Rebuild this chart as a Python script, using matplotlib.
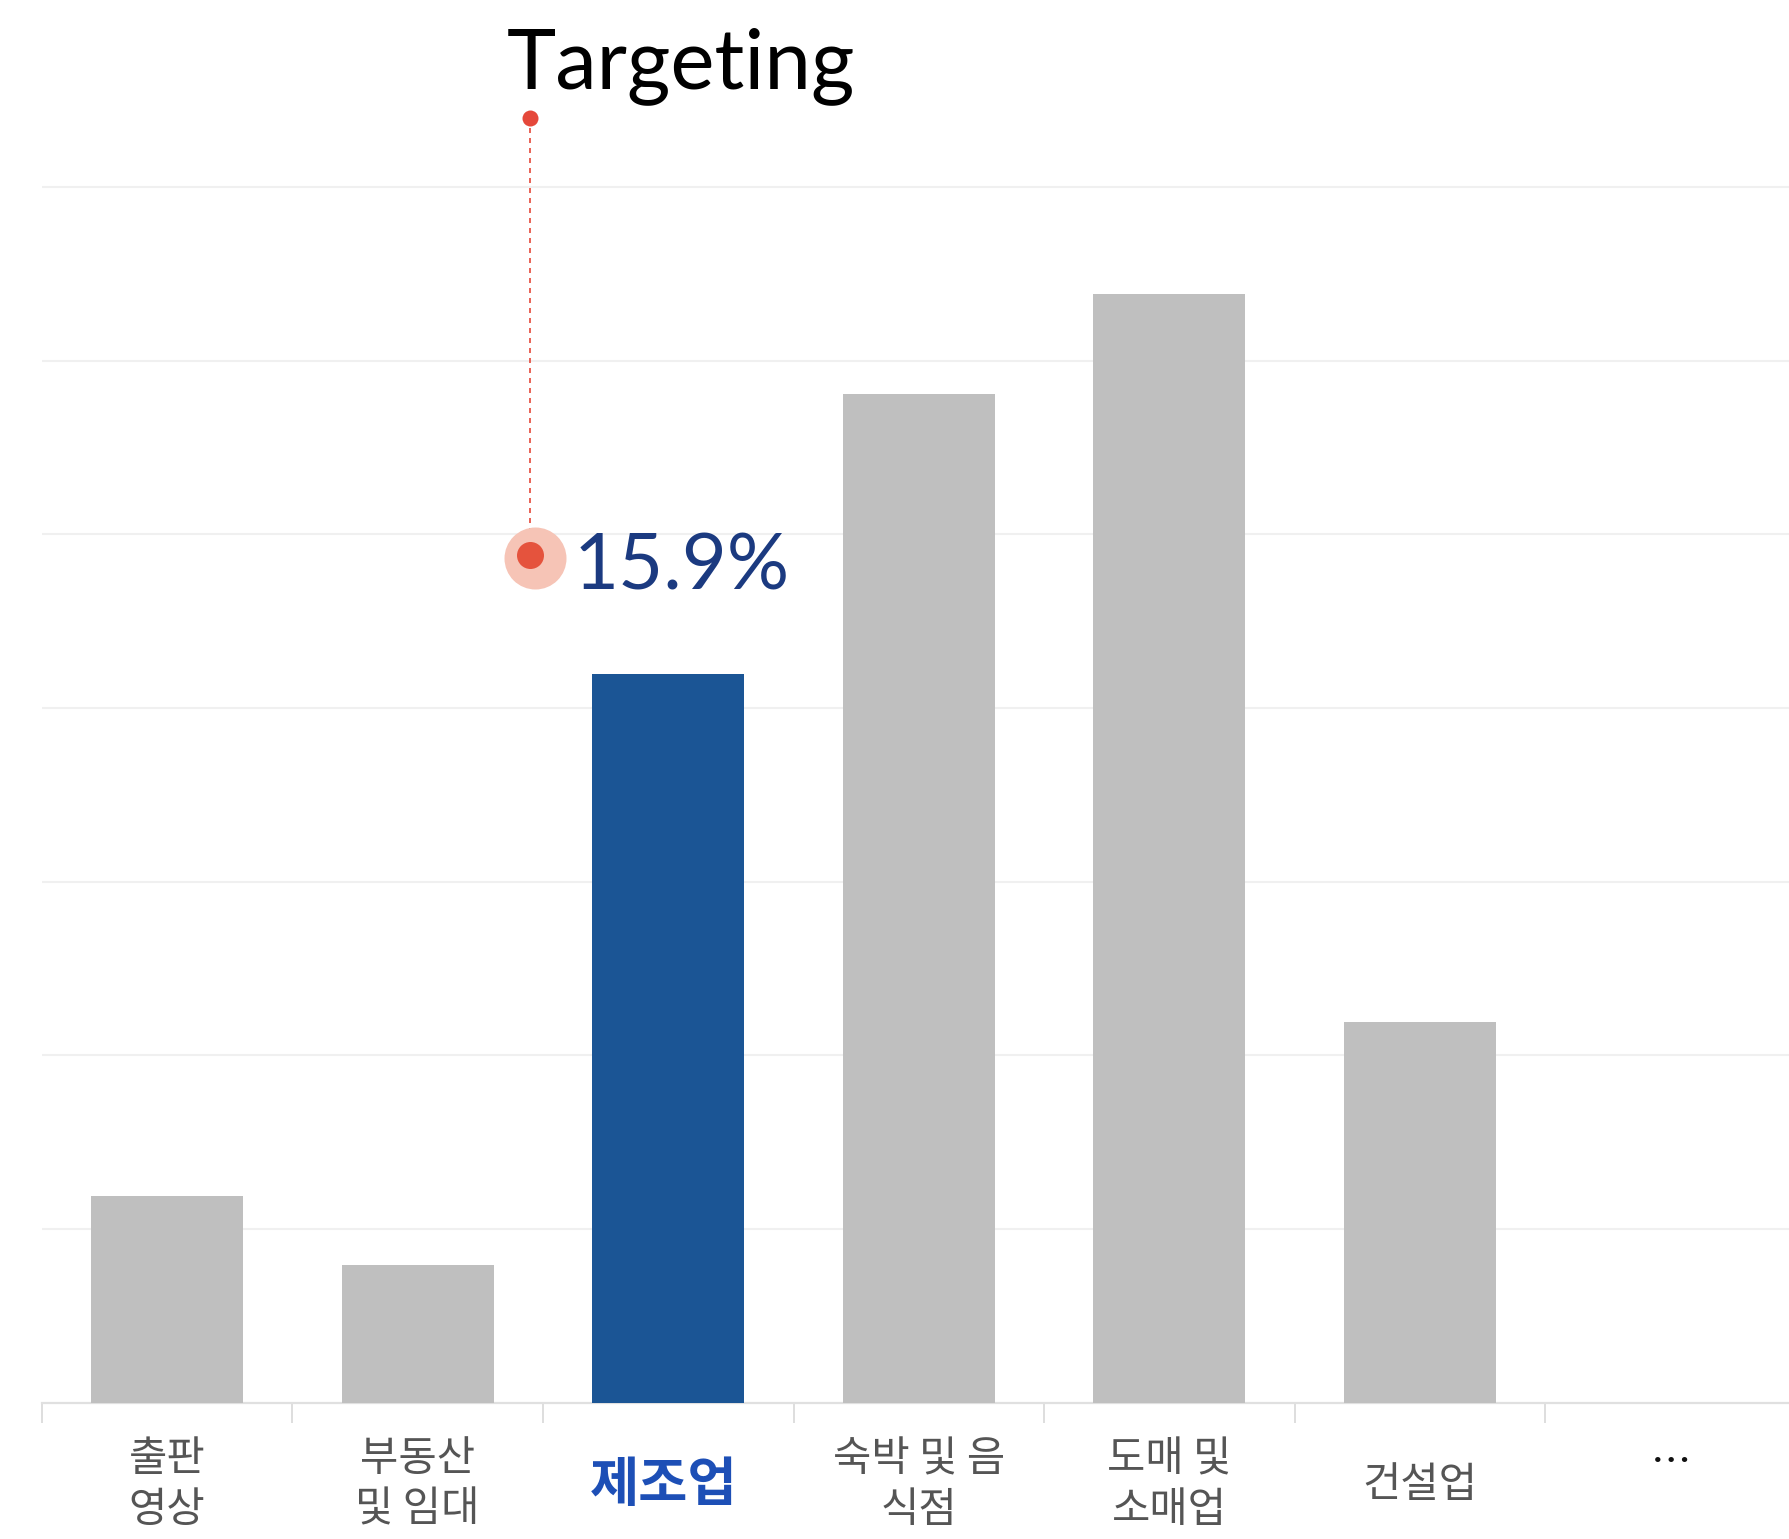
import numpy as np
import matplotlib
matplotlib.use("Agg")
import matplotlib.pyplot as plt

plt.rcParams['font.family'] = ['Noto Sans CJK KR', 'DejaVu Sans']

# ---- data ----
categories = ["출판\n영상", "부동산\n및 임대", "제조업", "숙박 및 음\n식점", "도매 및\n소매업", "건설업", "…"]
values = [4.5, 3.0, 15.9, 22.0, 24.2, 8.3]
highlight = 2
title_text = "Targeting"

# ---- styles ----
W, H = 1789, 1539
grey_bar = "#bfbfbf"
blue_bar = "#1b5595"
label_grey = "#555555"
label_blue = "#1d4fb6"
value_navy = "#1b3a80"
red = "#e5483a"
halo = "#f6c4b6"

fig = plt.figure(figsize=(W / 100, H / 100), dpi=100)
left_px, base_px = 41.7, 1402.7
cat_px = 250.6
ax = fig.add_axes([left_px / W, (H - base_px) / H, 7 * cat_px / W, base_px / H])

px_per_unit = 45.83
ax.set_xlim(-0.5, len(categories) - 0.5)
ax.set_ylim(0, base_px / px_per_unit)

x = np.arange(len(values))
colors = [blue_bar if i == highlight else grey_bar for i in range(len(values))]
ax.bar(x, values, width=0.607, color=colors, zorder=3)

# gridlines
grid_step = 3.79
ax.set_yticks(np.arange(1, 8) * grid_step)
ax.yaxis.grid(True, color="#f0f0f0", linewidth=1.5, zorder=0)
ax.tick_params(axis="y", length=0, labelleft=False)

# spines
for s in ["top", "right", "left"]:
    ax.spines[s].set_visible(False)
ax.spines["bottom"].set_color("#e0e0e0")
ax.spines["bottom"].set_linewidth(1.6)

# ticks at category boundaries
ax.set_xticks(np.arange(len(categories)))
ax.tick_params(axis="x", which="major", length=0, labelbottom=False)
ax.set_xticks(np.arange(-0.5, len(categories) - 0.5, 1), minor=True)
ax.tick_params(axis="x", which="minor", length=14.5, width=1.1, color="#d4d4d4")

# category labels
tr = ax.get_xaxis_transform()
lab_y = (base_px - 1485) / base_px
for i, lab in enumerate(categories):
    if i == highlight:
        ax.text(i - 0.02, lab_y, lab, transform=tr, ha="center", va="center",
                fontsize=38.5, fontweight="bold", color=label_blue)
    elif lab == "…":
        ax.text(i, (base_px - 1475) / base_px, lab, transform=tr, ha="center", va="baseline",
                fontsize=29, color="#111111")
    else:
        ax.text(i, lab_y, lab, transform=tr, ha="center", va="center",
                fontsize=30, color=label_grey, linespacing=1.3)

# annotation
to_data_x = lambda px: (px - left_px) / cat_px - 0.5
to_data_y = lambda py: (base_px - py) / px_per_unit

dot_x = to_data_x(530)
top_y = to_data_y(118)
low_y = to_data_y(555)
ax.plot([dot_x, dot_x], [top_y, low_y], color=red, lw=1.2, ls=(0, (3, 3)), zorder=4, clip_on=False)
ax.scatter([dot_x], [top_y], s=(16 * 0.72) ** 2, color=red, zorder=5, clip_on=False, linewidths=0)
ax.scatter([to_data_x(535)], [to_data_y(558)], s=(62 * 0.72) ** 2, color=halo, zorder=5, clip_on=False, linewidths=0)
ax.scatter([dot_x], [low_y], s=(27 * 0.72) ** 2, color="#e5533d", zorder=6, clip_on=False, linewidths=0)

ax.text(to_data_x(574), to_data_y(590), f"{values[highlight]}%", ha="left", va="baseline",
        fontsize=56, color=value_navy, zorder=7, family=["Lato", "DejaVu Sans"])
ax.text(to_data_x(507), to_data_y(88), title_text, ha="left", va="baseline",
        fontsize=60, color="black", zorder=7, family=["Lato", "DejaVu Sans"])

fig.savefig("out.png", dpi=100, facecolor="white")
